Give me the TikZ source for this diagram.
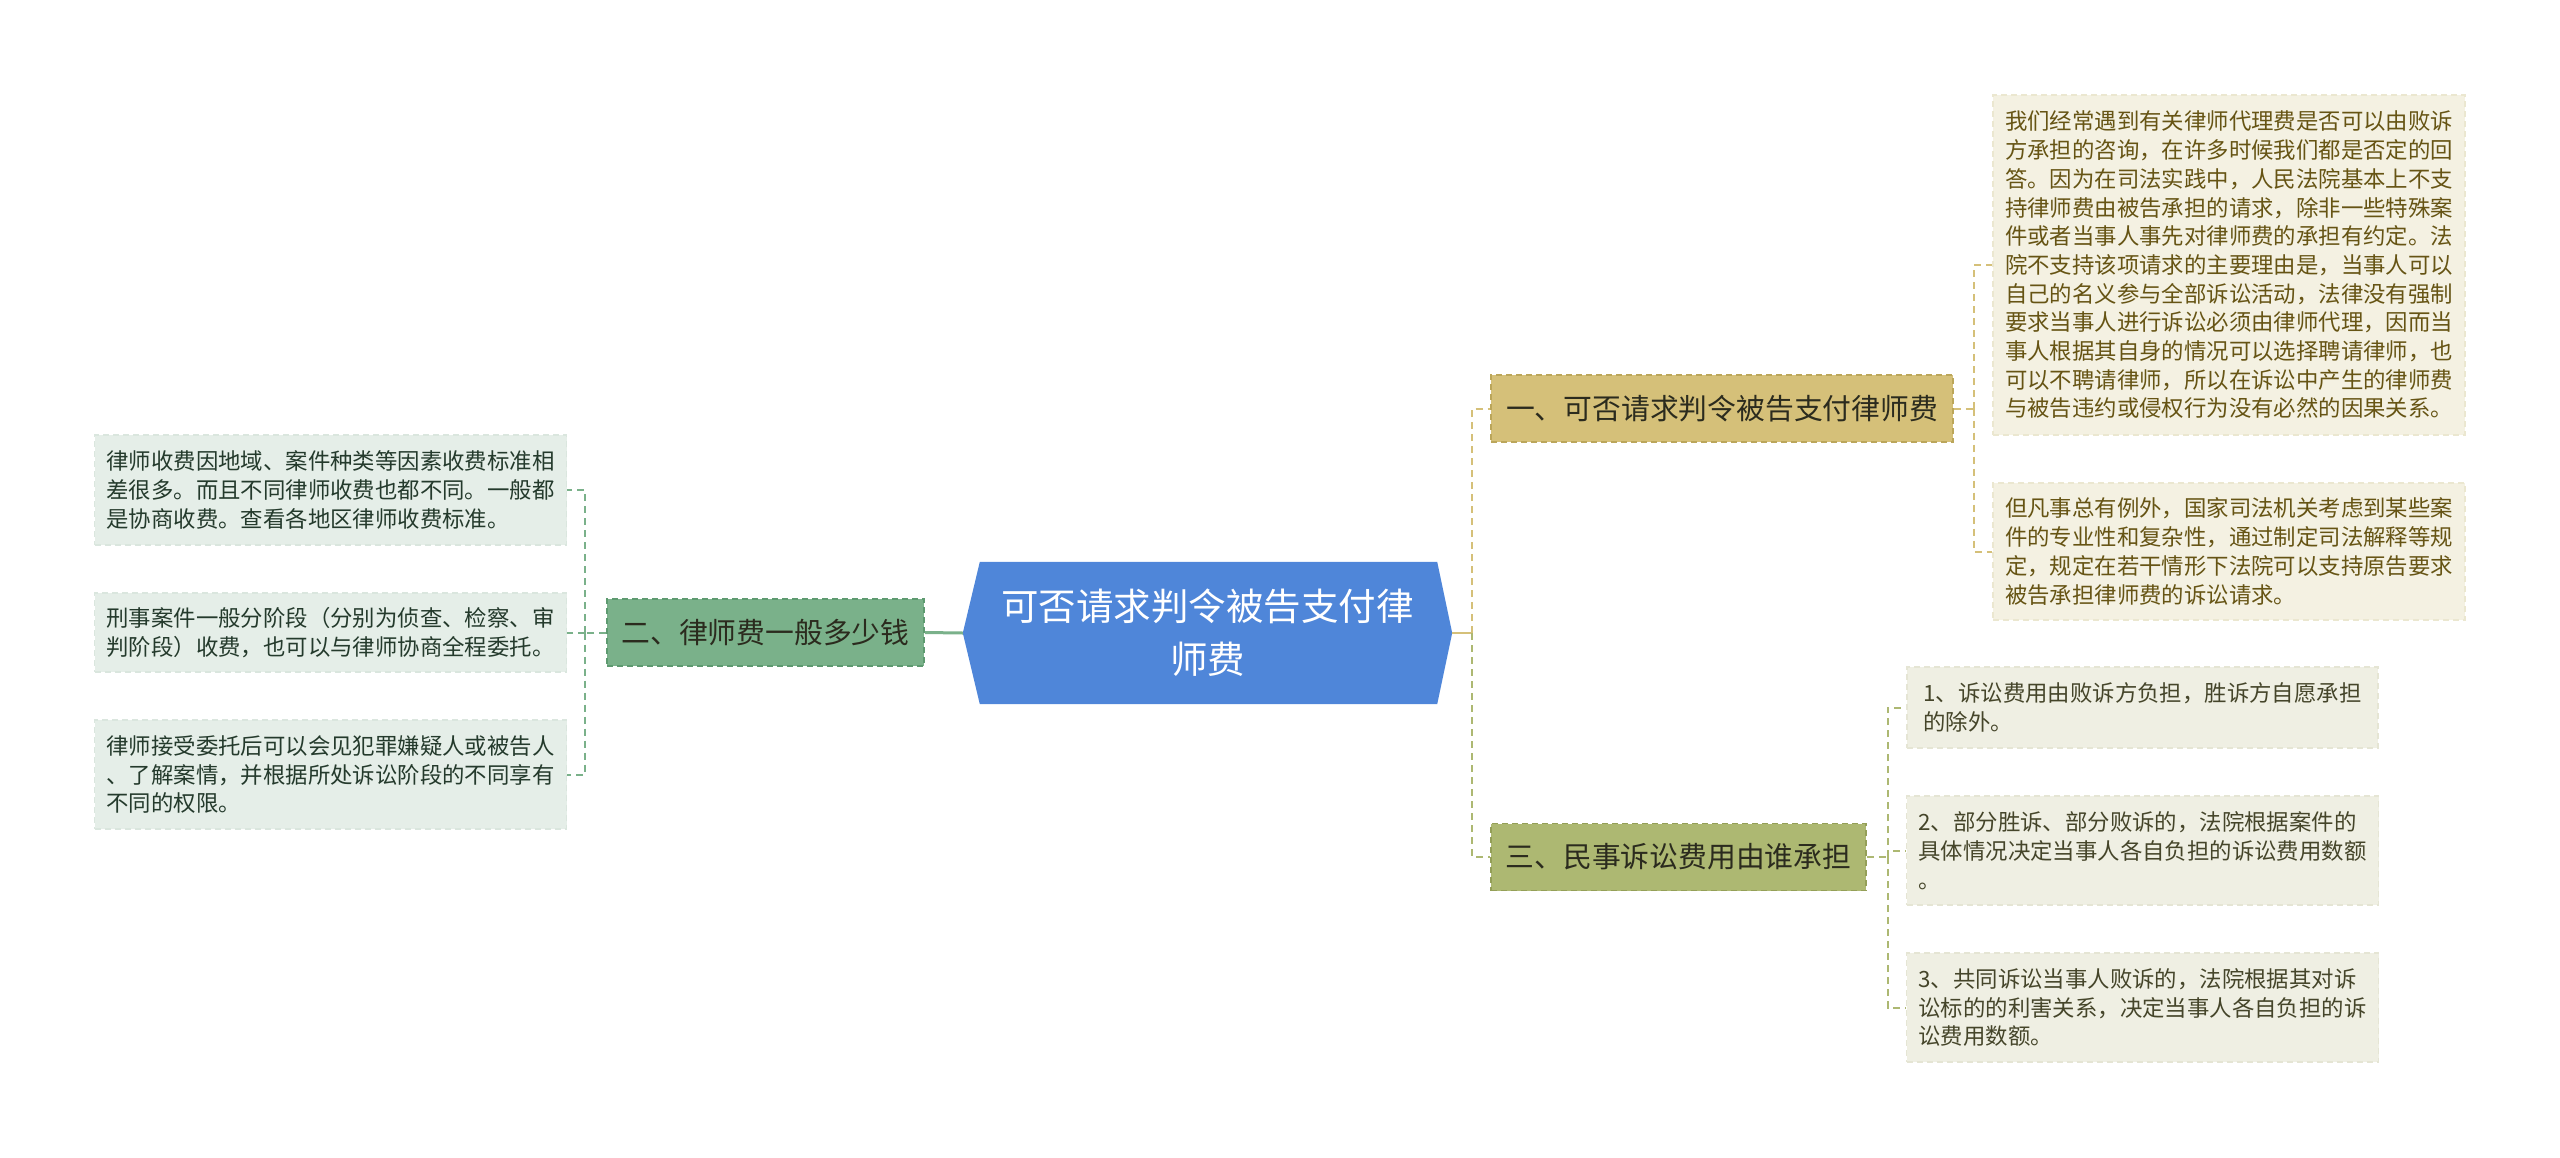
\documentclass[tikz,border=0pt]{standalone}
\usepackage{fontspec}
\newfontfamily\cjk{Noto Sans CJK SC}
\usetikzlibrary{calc,backgrounds}
\definecolor{cblue}{HTML}{4F86D9}
\definecolor{byel}{HTML}{D5C079}
\definecolor{byelb}{HTML}{BBA65A}
\definecolor{bgrn}{HTML}{7AB18A}
\definecolor{bgrnb}{HTML}{5E9A70}
\definecolor{boli}{HTML}{ADB872}
\definecolor{bolib}{HTML}{949F58}
\definecolor{lyel}{HTML}{F4F1E2}
\definecolor{lyelb}{HTML}{EBE7D0}
\definecolor{tyel}{HTML}{665414}
\definecolor{loli}{HTML}{EFEFE3}
\definecolor{lolib}{HTML}{E5E5D4}
\definecolor{toli}{HTML}{45452A}
\definecolor{lgrn}{HTML}{E5EEE8}
\definecolor{lgrnb}{HTML}{DAE6DE}
\definecolor{tgrn}{HTML}{243A2C}
\definecolor{tbr}{HTML}{2B2B1E}
\tikzset{
  branchbox/.style={draw, dashed, dash pattern=on 6pt off 4pt, line width=1.6pt, minimum height=67pt, inner sep=0pt, text=tbr, font=\cjk\fontsize{28.8}{36}\selectfont},
  leafbox/.style={draw, dashed, dash pattern=on 6pt off 4pt, line width=1.4pt, inner xsep=12pt, inner ysep=0pt, align=left, font=\cjk\fontsize{22.4}{28.7}\selectfont},
  conn/.style={dashed, dash pattern=on 7pt off 5pt, line width=2pt},
}
\begin{document}
\begin{tikzpicture}[x=1pt,y=-1pt]
\useasboundingbox (0,0) rectangle (2560,1157);
% central
\node[minimum width=489pt, minimum height=142pt, inner sep=0pt, align=center, text=white,
      font=\cjk\fontsize{37.5}{53}\selectfont] (c) at (1207.5,633) {可否请求判令被告支付律\\师费};
\begin{scope}[on background layer]
\fill[cblue] (c.west) -- ($(c.north west)+(17,0)$) -- ($(c.north east)+(-15,0)$) -- (c.east)
  -- ($(c.south east)+(-15,0)$) -- ($(c.south west)+(17,0)$) -- cycle;
\end{scope}
% branches
\node[branchbox, fill=byel, draw=byelb, minimum width=462pt] (b1) at (1722,408.5) {一、可否请求判令被告支付律师费};
\node[branchbox, fill=bgrn, draw=bgrnb, minimum width=317pt] (b2) at (765.5,632.5) {二、律师费一般多少钱};
\node[branchbox, fill=boli, draw=bolib, minimum width=375pt] (b3) at (1678.5,857) {三、民事诉讼费用由谁承担};
% leaves of b1
\node[leafbox, fill=lyel, draw=lyelb, text=tyel, minimum width=472pt, minimum height=340pt] (r1) at (2229,265) {我们经常遇到有关律师代理费是否可以由败诉\\方承担的咨询，在许多时候我们都是否定的回\\答。因为在司法实践中，人民法院基本上不支\\持律师费由被告承担的请求，除非一些特殊案\\件或者当事人事先对律师费的承担有约定。法\\院不支持该项请求的主要理由是，当事人可以\\自己的名义参与全部诉讼活动，法律没有强制\\要求当事人进行诉讼必须由律师代理，因而当\\事人根据其自身的情况可以选择聘请律师，也\\可以不聘请律师，所以在诉讼中产生的律师费\\与被告违约或侵权行为没有必然的因果关系。};
\node[leafbox, fill=lyel, draw=lyelb, text=tyel, minimum width=472pt, minimum height=137pt] (r2) at (2229,551.5) {但凡事总有例外，国家司法机关考虑到某些案\\件的专业性和复杂性，通过制定司法解释等规\\定，规定在若干情形下法院可以支持原告要求\\被告承担律师费的诉讼请求。};
% leaves of b3
\node[leafbox, fill=loli, draw=lolib, text=toli, minimum width=471pt, minimum height=81pt] (s1) at (2142.5,707.5) {1、诉讼费用由败诉方负担，胜诉方自愿承担\\的除外。};
\node[leafbox, fill=loli, draw=lolib, text=toli, minimum width=471pt, minimum height=109pt] (s2) at (2142.5,850.5) {2、部分胜诉、部分败诉的，法院根据案件的\\具体情况决定当事人各自负担的诉讼费用数额\\。};
\node[leafbox, fill=loli, draw=lolib, text=toli, minimum width=471pt, minimum height=109pt] (s3) at (2142.5,1007.5) {3、共同诉讼当事人败诉的，法院根据其对诉\\讼标的的利害关系，决定当事人各自负担的诉\\讼费用数额。};
% leaves of b2
\node[leafbox, fill=lgrn, draw=lgrnb, text=tgrn, minimum width=471pt, minimum height=110pt] (l1) at (330.5,490) {律师收费因地域、案件种类等因素收费标准相\\差很多。而且不同律师收费也都不同。一般都\\是协商收费。查看各地区律师收费标准。};
\node[leafbox, fill=lgrn, draw=lgrnb, text=tgrn, minimum width=471pt, minimum height=79pt] (l2) at (330.5,632.5) {刑事案件一般分阶段（分别为侦查、检察、审\\判阶段）收费，也可以与律师协商全程委托。};
\node[leafbox, fill=lgrn, draw=lgrnb, text=tgrn, minimum width=471pt, minimum height=109pt] (l3) at (330.5,774.5) {律师接受委托后可以会见犯罪嫌疑人或被告人\\、了解案情，并根据所处诉讼阶段的不同享有\\不同的权限。};
% connectors
\begin{scope}[on background layer]
\draw[bgrn, line width=3pt] (c.west) -- (b2.east);
\coordinate (jr) at ($(c.east)+(20,0)$);
\draw[byel, line width=2.5pt] (c.east) -- (jr);
\draw[conn, byel] (jr) |- (b1.west);
\draw[conn, boli] (jr) |- (b3.west);
\coordinate (j1) at ($(b1.east)+(20,0)$);
\draw[conn, byel] (b1.east) -- (j1);
\draw[conn, byel] (j1) |- (r1.west);
\draw[conn, byel] (j1) |- (r2.west);
\coordinate (j3) at ($(b3.east)+(21,0)$);
\draw[conn, boli] (b3.east) -- (j3);
\draw[conn, boli] (j3) |- (s1.west);
\draw[conn, boli] (j3) |- (s2.west);
\draw[conn, boli] (j3) |- (s3.west);
\coordinate (j2) at ($(b2.west)+(-21,0)$);
\draw[conn, bgrn] (b2.west) -- (j2);
\draw[conn, bgrn] (j2) |- (l1.east);
\draw[conn, bgrn] (j2) |- (l2.east);
\draw[conn, bgrn] (j2) |- (l3.east);
\end{scope}
\end{tikzpicture}
\end{document}
